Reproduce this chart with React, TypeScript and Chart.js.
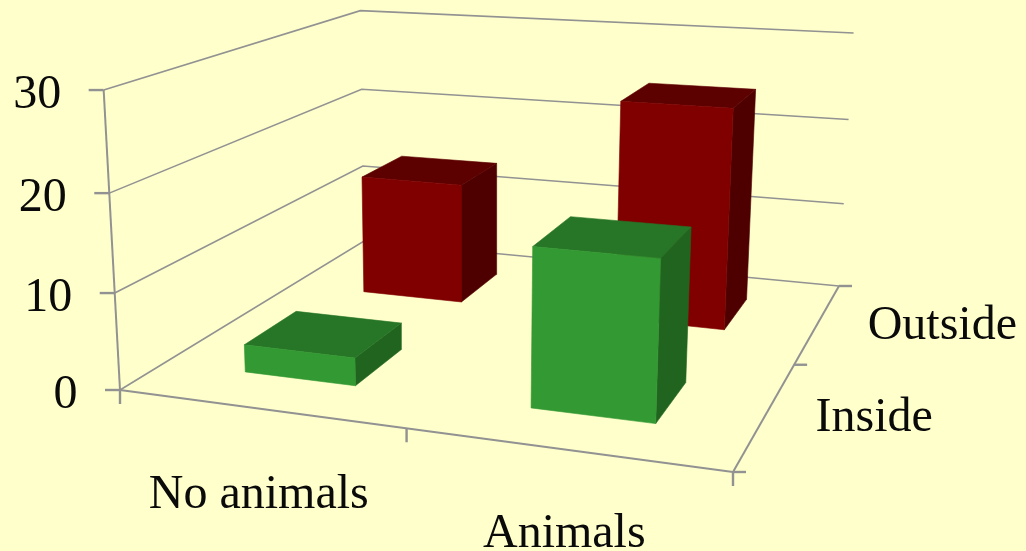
import React, { useEffect, useRef } from "react";
import { Chart, registerables } from "chart.js";

Chart.register(...registerables);

// Chart values
const categories = ["No animals", "Animals"];
const seriesLabels = ["Inside", "Outside"];
const valueTicks = [0, 10, 20, 30];
const insideValues = [2.9, 16];
const outsideValues = [13.8, 24.5];

const VALUE_MAX = 30;
const BAR_HALF = 0.1;
const FONT = '48px "Liberation Serif"';
const INK = "#0a0a0a";
const GRID = "#929292";

const greenFaces = { front: "#339933", top: "#277527", side: "#206420" };
const redFaces = { front: "#800000", top: "#5c0000", side: "#4e0000" };

type Pt = { x: number; y: number };

// Perspective camera: s runs along the categories, t into the depth axis, v is the value.
function project(s: number, t: number, v: number): Pt {
  const z = v / VALUE_MAX;
  const w = -0.12205 * s + 0.31776 * t - 0.045 * z + 1;
  return {
    x: (523.54 * s + 359.66 * t - 21 * z + 120) / w,
    y: (24.39 * s - 72.42 * t - 304 * z + 390) / w,
  };
}

const stroke = (points: Pt[], width: number) => ({
  data: points,
  showLine: true,
  pointRadius: 0,
  borderColor: GRID,
  borderWidth: width,
  fill: false,
});

const face = (points: Pt[], color: string) => ({
  data: [...points, points[0]],
  showLine: true,
  pointRadius: 0,
  borderColor: color,
  borderWidth: 0.6,
  backgroundColor: color,
  fill: "shape",
});

const box = (cat: number, depth: number, value: number, c: typeof greenFaces) => {
  const s0 = (cat + 0.5) / categories.length - BAR_HALF;
  const s1 = (cat + 0.5) / categories.length + BAR_HALF;
  const t0 = (depth + 0.5) / seriesLabels.length - BAR_HALF;
  const t1 = (depth + 0.5) / seriesLabels.length + BAR_HALF;
  return [
    face([project(s1, t0, 0), project(s1, t1, 0), project(s1, t1, value), project(s1, t0, value)], c.side),
    face([project(s0, t0, value), project(s1, t0, value), project(s1, t1, value), project(s0, t1, value)], c.top),
    face([project(s0, t0, 0), project(s1, t0, 0), project(s1, t0, value), project(s0, t0, value)], c.front),
  ];
};

const offset = (p: Pt, dx: number, dy: number): Pt => ({ x: p.x + dx, y: p.y + dy });

function buildDatasets() {
  const out: any[] = [];

  // Wall and floor gridlines
  valueTicks.forEach((v) => {
    out.push(stroke([project(0, 0, v), project(0, 1, v), project(1, 1, v)], 1.6));
  });

  // Axis lines
  out.push(stroke([project(0, 0, 0), project(0, 0, VALUE_MAX)], 2));
  out.push(stroke([project(0, 0, 0), project(1, 0, 0)], 2));
  out.push(stroke([project(1, 0, 0), project(1, 1, 0)], 2));

  // Tick marks
  valueTicks.forEach((v) => {
    const p = project(0, 0, v);
    out.push(stroke([p, offset(p, -15, 0)], 2.4));
  });
  for (let i = 0; i <= categories.length; i++) {
    const p = project(i / categories.length, 0, 0);
    out.push(stroke([p, offset(p, 0, 14)], 2.4));
  }
  for (let i = 0; i <= seriesLabels.length; i++) {
    const p = project(1, i / seriesLabels.length, 0);
    out.push(stroke([p, offset(p, 13, 0)], 2.4));
  }

  // Bars, back row first so the front row paints over it
  outsideValues.forEach((v, i) => out.push(...box(i, 1, v, redFaces)));
  insideValues.forEach((v, i) => out.push(...box(i, 0, v, greenFaces)));

  // Chart.js paints the first dataset last, so reverse for back-to-front order
  return out.reverse();
}

const axisText = {
  id: "axisText",
  afterDraw(chart: Chart) {
    const ctx = chart.ctx;
    const sx = chart.scales.x;
    const sy = chart.scales.y;
    const at = (p: Pt, dx: number, dy: number) => ({
      x: sx.getPixelForValue(p.x) + dx,
      y: sy.getPixelForValue(p.y) + dy,
    });
    ctx.save();
    ctx.font = FONT;
    ctx.fillStyle = INK;
    ctx.textBaseline = "alphabetic";

    ctx.textAlign = "right";
    valueTicks.forEach((v) => {
      const p = at(project(0, 0, v), -42.5, 17.5);
      ctx.fillText(String(v), p.x, p.y);
    });

    ctx.textAlign = "center";
    const catDrop = [99.5, 97.5];
    categories.forEach((label, i) => {
      const p = at(project((i + 0.5) / categories.length, 0, 0), 0, catDrop[i]);
      ctx.fillText(label, p.x, p.y);
    });

    ctx.textAlign = "left";
    seriesLabels.forEach((label, i) => {
      const p = at(project(1, (i + 0.5) / seriesLabels.length, 0), 49.5, 16.6);
      ctx.fillText(label, p.x, p.y);
    });
    ctx.restore();
  },
};

export default function App() {
  const ref = useRef<HTMLCanvasElement>(null);

  useEffect(() => {
    document.body.style.margin = "0";
    document.body.style.background = "#ffffcc";
    const chart = new Chart(ref.current!, {
      type: "scatter",
      data: { datasets: buildDatasets() },
      options: {
        animation: false,
        responsive: false,
        events: [],
        layout: { padding: 0 },
        plugins: { legend: { display: false }, tooltip: { enabled: false } },
        scales: {
          x: { type: "linear", display: false, min: 0, max: 1026 },
          y: { type: "linear", display: false, min: 0, max: 551, reverse: true },
        },
      },
      plugins: [axisText],
    } as any);
    return () => chart.destroy();
  }, []);

  return (
    <canvas
      ref={ref}
      width={1026}
      height={551}
      style={{ display: "block", width: 1026, height: 551, background: "#ffffcc" }}
    />
  );
}
